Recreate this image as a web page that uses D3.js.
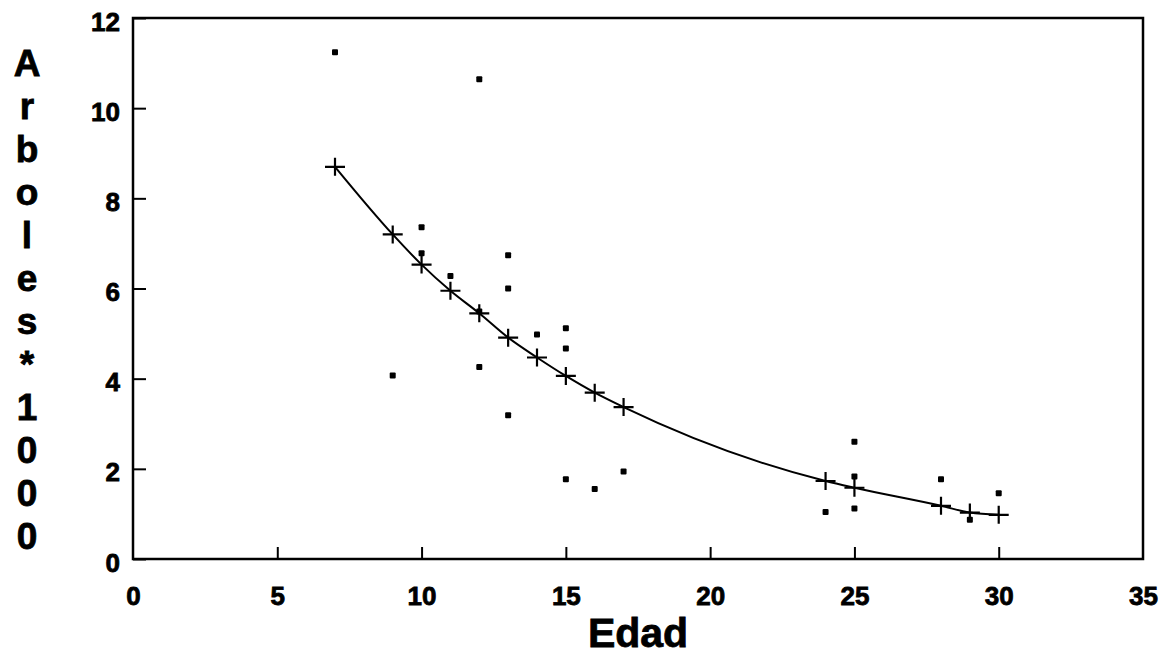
<!DOCTYPE html>
<html>
<head>
<meta charset="utf-8">
<script src="https://cdn.jsdelivr.net/npm/d3@7"></script>
<style>
  html, body { margin: 0; padding: 0; background: #fff; }
  svg { display: block; }
  text { font-family: "Liberation Sans", Arial, Helvetica, sans-serif; font-weight: bold; fill: #000; stroke: #000; stroke-width: 0.8px; }
</style>
</head>
<body>
<svg id="chart" width="1164" height="657"></svg>
<script>
// Observed trees per plot (thousands) by stand age
const obsAge   = [7, 9, 10, 10, 11, 12, 12, 12, 13, 13, 13, 14, 15, 15, 15, 16, 17, 24, 25, 25, 25, 28, 29, 30];
const obsTrees = [11.24, 4.07, 7.36, 6.78, 6.28, 10.64, 5.49, 4.26, 6.74, 6.00, 3.19, 4.98, 5.12, 4.67, 1.77, 1.55, 1.94, 1.04, 2.60, 1.83, 1.12, 1.77, 0.87, 1.46];

// Fitted curve values
const fitAge   = [7, 9, 10, 11, 12, 13, 14, 15, 16, 17, 24, 25, 28, 29, 30];
const fitTrees = [8.70, 7.20, 6.53, 5.95, 5.45, 4.91, 4.47, 4.06, 3.69, 3.37, 1.73, 1.58, 1.18, 1.03, 0.98];

const xTicks = [0, 5, 10, 15, 20, 25, 30, 35];
const yTicks = [0, 2, 4, 6, 8, 10, 12];
const yTitle = "Arboles*1000";
const xTitle = "Edad";

const svg = d3.select("#chart");
const plotLeft = 133, plotRight = 1143, plotTop = 18, plotBottom = 559;

const x = d3.scaleLinear().domain([0, 35]).range([plotLeft, plotRight]);
const y = d3.scaleLinear().domain([0, 12]).range([plotBottom, plotTop]);

// Frame
svg.append("rect")
  .attr("x", plotLeft).attr("y", plotTop)
  .attr("width", plotRight - plotLeft).attr("height", plotBottom - plotTop)
  .attr("fill", "none").attr("stroke", "#000").attr("stroke-width", 2.5);

// Y axis: inward ticks, labels on the left
const yAxis = d3.axisLeft(y).tickValues(yTicks).tickSizeInner(-13).tickSizeOuter(0);
const gy = svg.append("g").attr("transform", `translate(${plotLeft},0)`).call(yAxis);
gy.attr("font-size", null).attr("font-family", null);
gy.select(".domain").remove();
gy.selectAll(".tick line").attr("stroke", "#000").attr("stroke-width", 2);
gy.selectAll(".tick text")
  .style("font-size", "26px")
  .attr("x", -13).attr("dy", 12);

// X axis: inward ticks, labels below
const xAxis = d3.axisBottom(x).tickValues(xTicks).tickSizeInner(-12).tickSizeOuter(0);
const gx = svg.append("g").attr("transform", `translate(0,${plotBottom})`).call(xAxis);
gx.attr("font-size", null).attr("font-family", null);
gx.select(".domain").remove();
gx.selectAll(".tick line").attr("stroke", "#000").attr("stroke-width", 2)
  .filter(d => d === 0 || d === 35).remove();
gx.selectAll(".tick text")
  .style("font-size", "26px")
  .attr("y", 46).attr("dy", 0);

// Axis titles
svg.append("text")
  .attr("x", 638).attr("y", 647)
  .attr("text-anchor", "middle")
  .style("font-size", "41px")
  .text(xTitle);

svg.append("g").selectAll("text")
  .data(Array.from(yTitle))
  .join("text")
  .attr("x", 27)
  .attr("y", (d, i) => 76 + i * 43)
  .attr("text-anchor", "middle")
  .style("font-size", "37px")
  .text(d => d);

// Fitted curve
const line = d3.line().x(d => x(d[0])).y(d => y(d[1])).curve(d3.curveMonotoneX);
const fit = fitAge.map((a, i) => [a, fitTrees[i]]);
svg.append("path")
  .datum(fit)
  .attr("d", line)
  .attr("fill", "none").attr("stroke", "#000").attr("stroke-width", 2);

// Cross markers on the fitted values
const crosses = svg.append("g").attr("stroke", "#000").attr("stroke-width", 2.2);
crosses.selectAll("path")
  .data(fit)
  .join("path")
  .attr("d", d => {
    const cx = x(d[0]), cy = y(d[1]);
    return `M${cx - 10},${cy}H${cx + 10}M${cx},${cy - 9}V${cy + 9}`;
  });

// Observed points
svg.append("g").selectAll("rect")
  .data(obsAge.map((a, i) => [a, obsTrees[i]]))
  .join("rect")
  .attr("x", d => x(d[0]) - 3)
  .attr("y", d => y(d[1]) - 3)
  .attr("width", 6).attr("height", 6)
  .attr("rx", 1)
  .attr("fill", "#000");
</script>
</body>
</html>
